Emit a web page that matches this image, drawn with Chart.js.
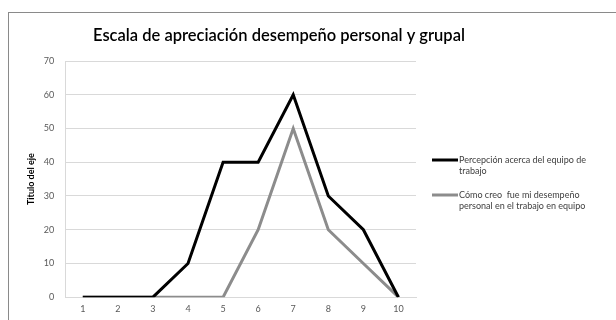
<!DOCTYPE html>
<html>
<head>
<meta charset="utf-8">
<script src="https://cdn.jsdelivr.net/npm/chart.js@4/dist/chart.umd.min.js"></script>
<style>
  html, body { margin: 0; padding: 0; background: #fff; }
  #wrap { position: relative; width: 616px; height: 320px; }
  #frame { position: absolute; left: 8px; top: 12px; width: 640px; height: 340px; border: 1px solid #8a8a8a; box-sizing: border-box; pointer-events: none; }
  canvas { position: absolute; left: 0; top: 0; }
</style>
</head>
<body>
<div id="wrap">
  <canvas id="c" width="616" height="320"></canvas>
  <div id="frame"></div>
</div>
<script>
const categories = ['1', '2', '3', '4', '5', '6', '7', '8', '9', '10'];
const equipoValues = [0, 0, 0, 10, 40, 40, 60, 30, 20, 0];
const personalValues = [0, 0, 0, 0, 0, 20, 50, 20, 10, 0];
const seriesLabels = [
  ['Percepción acerca del equipo de', 'trabajo'],
  ['Cómo creo  fue mi desempeño', 'personal en el trabajo en equipo']
];
const chartTitle = 'Escala de apreciación desempeño personal y grupal';
const axisTitle = 'Titulo del eje';

const FONT = 'Lato, "Open Sans", sans-serif';

// Title across the whole frame, and a legend to the right of the plot with wrapped labels
const decorations = {
  id: 'decorations',
  afterDraw(chart) {
    const ctx = chart.ctx;
    ctx.save();
    ctx.fillStyle = '#000';
    ctx.font = '600 16.5px ' + FONT;
    ctx.textAlign = 'center';
    ctx.textBaseline = 'middle';
    ctx.fillText(chartTitle, 279, 36);

    const x0 = 432, lineLen = 26;
    const tops = [160, 195];
    ctx.textAlign = 'left';
    chart.data.datasets.forEach((ds, i) => {
      const y = tops[i];
      ctx.strokeStyle = ds.borderColor;
      ctx.lineWidth = ds.borderWidth;
      ctx.beginPath();
      ctx.moveTo(x0, y);
      ctx.lineTo(x0 + lineLen, y);
      ctx.stroke();
      ctx.fillStyle = '#404040';
      ctx.font = '9px ' + FONT;
      ds.labelLines.forEach((t, j) => {
        ctx.fillText(t, x0 + lineLen + 1, y + j * 11);
      });
    });
    ctx.restore();
  }
};

new Chart(document.getElementById('c'), {
  type: 'line',
  data: {
    labels: categories,
    datasets: [
      { label: seriesLabels[0].join(' '), labelLines: seriesLabels[0], data: equipoValues,
        borderColor: '#000000', borderWidth: 3, pointRadius: 0, tension: 0 },
      { label: seriesLabels[1].join(' '), labelLines: seriesLabels[1], data: personalValues,
        borderColor: '#8c8c8c', borderWidth: 3, pointRadius: 0, tension: 0 }
    ]
  },
  options: {
    responsive: false,
    animation: false,
    layout: { padding: { left: 26, right: 200, top: 61, bottom: 0 } },
    plugins: {
      legend: { display: false },
      tooltip: { enabled: false },
      title: { display: false }
    },
    scales: {
      x: {
        offset: true,
        grid: { display: false, drawTicks: false },
        border: { display: true, color: '#d9d9d9', width: 1 },
        ticks: { color: '#595959', font: { family: FONT, size: 9 }, padding: 6 }
      },
      y: {
        min: 0, max: 70,
        grid: { color: '#d9d9d9', drawTicks: false },
        border: { display: true, color: '#d9d9d9' },
        ticks: { stepSize: 10, color: '#595959', font: { family: FONT, size: 9 }, padding: 11 },
        title: { display: true, text: axisTitle, color: '#000', font: { family: FONT, size: 9, weight: 'bold' }, padding: { top: 0, bottom: -4 } }
      }
    }
  },
  plugins: [decorations]
});
</script>
</body>
</html>
